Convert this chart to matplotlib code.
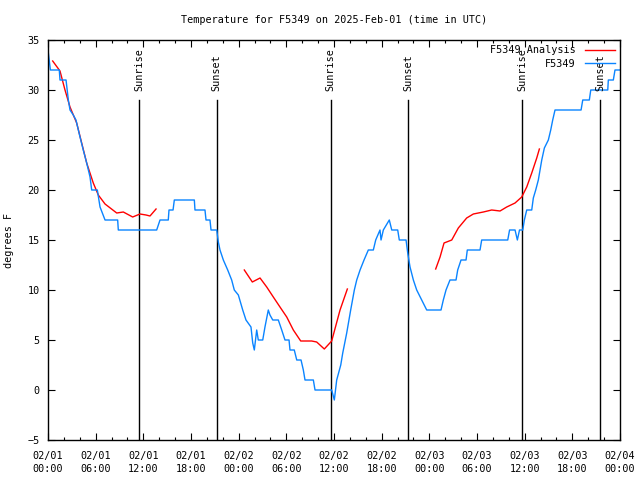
import matplotlib
matplotlib.use("Agg")
import matplotlib.pyplot as plt
import numpy as np

# hours since 2025-02-01 00:00 UTC
obs_hours = [0.0, 0.3, 1.42, 1.51, 2.27, 2.56, 2.77, 3.18, 3.52, 4.03, 4.44, 4.87, 5.29, 5.5,
             6.21, 6.55, 7.18, 8.77, 8.85, 13.68, 14.1, 15.14, 15.23, 15.74, 15.9, 18.42, 18.5,
             19.76, 19.89, 20.39, 20.52, 21.24, 21.44, 21.65, 22.07, 22.62, 23.12, 23.45, 23.96,
             24.26, 24.51, 24.92, 25.55, 25.77, 25.97, 26.27, 26.47, 27.03, 27.31, 27.73, 27.94,
             28.29, 28.99, 29.42, 29.83, 30.34, 30.46, 31.0, 31.31, 31.85, 32.14, 32.35, 33.4,
             33.61, 35.71, 36.04, 36.34, 36.85, 37.1, 37.6, 38.1, 38.56, 38.86, 39.28, 39.78,
             40.32, 40.95, 41.25, 41.79, 41.92, 42.21, 42.96, 43.27, 44.02, 44.22, 45.07, 45.28,
             45.57, 45.99, 46.41, 47.04, 47.67, 49.47, 49.76, 50.1, 50.6, 51.36, 51.57, 51.99,
             52.62, 52.78, 54.38, 54.59, 57.87, 58.1, 58.79, 59.08, 59.35, 59.76, 59.96, 60.26,
             60.89, 61.09, 61.39, 61.72, 61.93, 62.15, 62.48, 62.98, 63.28, 63.53, 63.82, 67.1,
             67.31, 68.14, 68.32, 70.46, 70.53, 71.16, 71.37, 72.0]
obs_temp = [34, 32, 32, 31, 31, 29, 28, 27.5, 27, 25.3, 24, 22.7, 21.3, 20,
            20, 18.3, 17, 17, 16, 16, 17, 17, 18, 18, 19, 19, 18,
            18, 17, 17, 16, 16, 14.8, 14, 13, 12, 11, 10, 9.5,
            8.7, 8, 7, 6.3, 4.7, 4, 6, 5, 5, 6.3, 8, 7.5,
            7, 7, 6, 5, 5, 4, 4, 3, 3, 2, 1, 1,
            0, 0, -1, 1, 2.5, 3.7, 5.7, 8, 10, 11, 12, 13,
            14, 14, 15, 16, 15, 16, 17, 16, 16, 15, 15, 13.7,
            12.3, 11, 10, 9, 8, 8, 9, 10, 11, 11, 12, 13,
            13, 14, 14, 15, 15, 16, 16, 15, 16, 16, 17, 18,
            18, 19.2, 20, 21, 22, 23, 24.2, 25, 26, 27, 28, 28,
            29, 29, 30, 30, 31, 31, 32, 32]

# analysis segments (gaps between runs)
ana1_hours = [0.59, 1.51, 2.14, 2.77, 3.61, 4.24, 4.87, 5.7, 6.33, 7.18, 8.65, 9.48, 10.66,
              11.58, 12.34, 12.84, 13.6]
ana1_temp = [32.9, 31.9, 30.0, 28.3, 26.7, 24.7, 22.7, 20.7, 19.5, 18.6, 17.7, 17.8, 17.3,
             17.6, 17.5, 17.4, 18.1]
ana2_hours = [24.71, 25.72, 26.69, 27.53, 28.36, 29.2, 30.05, 30.88, 31.81, 33.19, 33.82,
              34.78, 35.71, 36.76, 37.68]
ana2_temp = [12.0, 10.8, 11.2, 10.3, 9.3, 8.3, 7.3, 6.0, 4.9, 4.9, 4.8, 4.1, 4.9, 8.0, 10.1]
ana3_hours = [48.8, 49.35, 49.85, 50.82, 51.65, 52.7, 53.54, 54.8, 55.85, 56.9, 57.74, 58.79,
              59.63, 60.26, 60.89, 61.52, 61.85]
ana3_temp = [12.1, 13.3, 14.7, 15.0, 16.2, 17.2, 17.6, 17.8, 18.0, 17.9, 18.3, 18.7, 19.3,
             20.3, 21.7, 23.2, 24.1]

sun_hours = [11.49, 21.24, 35.58, 45.36, 59.71, 69.49]
sun_labels = ["Sunrise", "Sunset", "Sunrise", "Sunset", "Sunrise", "Sunset"]

tick_hours = [0, 6, 12, 18, 24, 30, 36, 42, 48, 54, 60, 66, 72]
tick_labels = ["02/01\n00:00", "02/01\n06:00", "02/01\n12:00", "02/01\n18:00",
               "02/02\n00:00", "02/02\n06:00", "02/02\n12:00", "02/02\n18:00",
               "02/03\n00:00", "02/03\n06:00", "02/03\n12:00", "02/03\n18:00",
               "02/04\n00:00"]

plt.rcParams['font.family'] = ['DejaVu Sans Mono']
fs = 7.3

fig = plt.figure(figsize=(6.4, 4.8), dpi=100)
ax = fig.add_axes([48/640, 40/480, 572/640, 400/480])

# sunrise / sunset markers
for h, lab in zip(sun_hours, sun_labels):
    ax.plot([h, h], [-5, 29], color='black', lw=1.0)
    ax.text(h, 29.9, lab, rotation=90, ha='center', va='bottom', fontsize=fs)

ax.plot(ana1_hours, ana1_temp, color='#ff0000', lw=1.0, label='F5349 Analysis')
ax.plot(ana2_hours, ana2_temp, color='#ff0000', lw=1.0)
ax.plot(ana3_hours, ana3_temp, color='#ff0000', lw=1.0)
ax.plot(obs_hours, obs_temp, color='#0a84ff', lw=1.0, label='F5349')

ax.set_xlim(0, 72)
ax.set_ylim(-5, 35)
ax.set_xticks(tick_hours)
ax.set_xticklabels(tick_labels, fontsize=fs, linespacing=1.35)
ax.set_xticks(np.arange(0, 73, 2), minor=True)
ax.set_yticks(np.arange(-5, 36, 5))
ax.tick_params(axis='both', which='both', direction='in', top=True, right=True, labelsize=fs)
ax.tick_params(which='major', length=5, width=0.8)
ax.tick_params(which='minor', length=2.5, width=0.8)
ax.tick_params(axis='x', pad=8)
ax.tick_params(axis='y', pad=6)
for s in ax.spines.values():
    s.set_linewidth(1.0)

ax.set_ylabel('degrees F', fontsize=fs, labelpad=10)
ax.set_title('Temperature for F5349 on 2025-Feb-01 (time in UTC)', fontsize=fs, pad=12)

leg = ax.legend(loc='upper right', frameon=False, fontsize=fs, markerfirst=False,
                handlelength=3.0, handletextpad=0.9, borderaxespad=0.1, labelspacing=0.35)

fig.savefig('out.png', dpi=100)
